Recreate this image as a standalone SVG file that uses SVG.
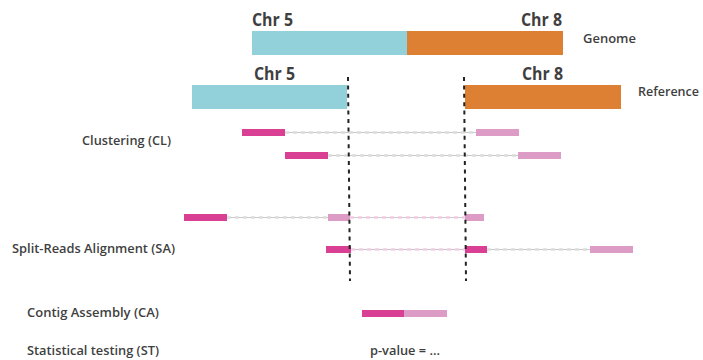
<svg xmlns="http://www.w3.org/2000/svg" width="703" height="360" viewBox="0 0 703 360">
<style>
text{font-family:"Open Sans","Noto Sans","Liberation Sans",sans-serif;font-weight:600;fill:#3f3f3f}
.chr{font-size:17.5px;font-weight:700}
.lbl{font-size:12.5px}
.cy{fill:#92d1da}
.or{fill:#dd8033}
.pk{fill:#d94094}
.lp{fill:#dc9cc6}
.base{stroke:#c9c9c9;stroke-width:1}
.gd{stroke:#dcdcdc;stroke-width:2.4;stroke-dasharray:4 4}
.pd{stroke:#f0cde4;stroke-width:2.4;stroke-dasharray:4 4}
.bp{stroke:#222;stroke-width:2;stroke-dasharray:4 4.4;fill:none}
</style>
<rect width="703" height="360" fill="#fff"/>
<g id="genome">
<rect class="cy" x="252" y="31" width="155" height="24"/>
<rect class="or" x="407" y="31" width="156" height="24"/>
<text class="chr" x="252" y="26" textLength="41" lengthAdjust="spacingAndGlyphs">Chr 5</text>
<text class="chr" x="521" y="26" textLength="41" lengthAdjust="spacingAndGlyphs">Chr 8</text>
<text class="lbl" x="583" y="43" textLength="53" lengthAdjust="spacingAndGlyphs">Genome</text>
</g>
<g id="reference">
<rect class="cy" x="192" y="85" width="155" height="24"/>
<rect class="or" x="465" y="85" width="156" height="24"/>
<text class="chr" x="254" y="80" textLength="41" lengthAdjust="spacingAndGlyphs">Chr 5</text>
<text class="chr" x="522" y="80" textLength="41" lengthAdjust="spacingAndGlyphs">Chr 8</text>
<text class="lbl" x="638" y="96" textLength="61" lengthAdjust="spacingAndGlyphs">Reference</text>
</g>
<g id="connectors">
<line class="base" x1="285" y1="132.5" x2="476" y2="132.5"/>
<line class="gd" x1="285" y1="132.5" x2="476" y2="132.5"/>
<line class="base" x1="328" y1="155.5" x2="518" y2="155.5"/>
<line class="gd" x1="328" y1="155.5" x2="518" y2="155.5"/>
<line class="base" x1="227" y1="217.5" x2="465" y2="217.5"/>
<line class="gd" x1="227" y1="217.5" x2="328" y2="217.5"/>
<line class="pd" x1="350" y1="217.5" x2="465" y2="217.5"/>
<line class="base" x1="351" y1="249.5" x2="590" y2="249.5"/>
<line class="pd" x1="351" y1="249.5" x2="465" y2="249.5"/>
<line class="gd" x1="487" y1="249.5" x2="590" y2="249.5"/>
</g>
<g id="clustering">
<text class="lbl" x="82" y="145" textLength="89" lengthAdjust="spacingAndGlyphs">Clustering (CL)</text>
<rect class="pk" x="242" y="129" width="43" height="7"/>
<rect class="lp" x="476" y="129" width="43" height="7"/>
<rect class="pk" x="285" y="152" width="43" height="7"/>
<rect class="lp" x="518" y="152" width="43" height="7"/>
</g>
<g id="split-reads">
<text class="lbl" x="12" y="253" textLength="163" lengthAdjust="spacingAndGlyphs">Split-Reads Alignment (SA)</text>
<rect class="pk" x="184" y="214" width="43" height="7"/>
<rect class="lp" x="328" y="214" width="22" height="7"/>
<rect class="lp" x="465" y="214" width="19" height="7"/>
<rect class="pk" x="326" y="246" width="25" height="7"/>
<rect class="pk" x="465" y="246" width="22" height="7"/>
<rect class="lp" x="590" y="246" width="43" height="7"/>
</g>
<g id="contig">
<text class="lbl" x="27" y="317" textLength="132" lengthAdjust="spacingAndGlyphs">Contig Assembly (CA)</text>
<rect class="pk" x="362" y="310" width="42" height="7"/>
<rect class="lp" x="404" y="310" width="43" height="7"/>
</g>
<g id="statistical">
<text class="lbl" x="27" y="355" textLength="132" lengthAdjust="spacingAndGlyphs">Statistical testing (ST)</text>
<text class="lbl" x="370" y="355" textLength="70" lengthAdjust="spacingAndGlyphs">p-value = ...</text>
</g>
<g id="breakpoints">
<line class="bp" x1="348" y1="77" x2="350" y2="281"/>
<line class="bp" x1="464" y1="77" x2="466" y2="281"/>
</g>
</svg>
